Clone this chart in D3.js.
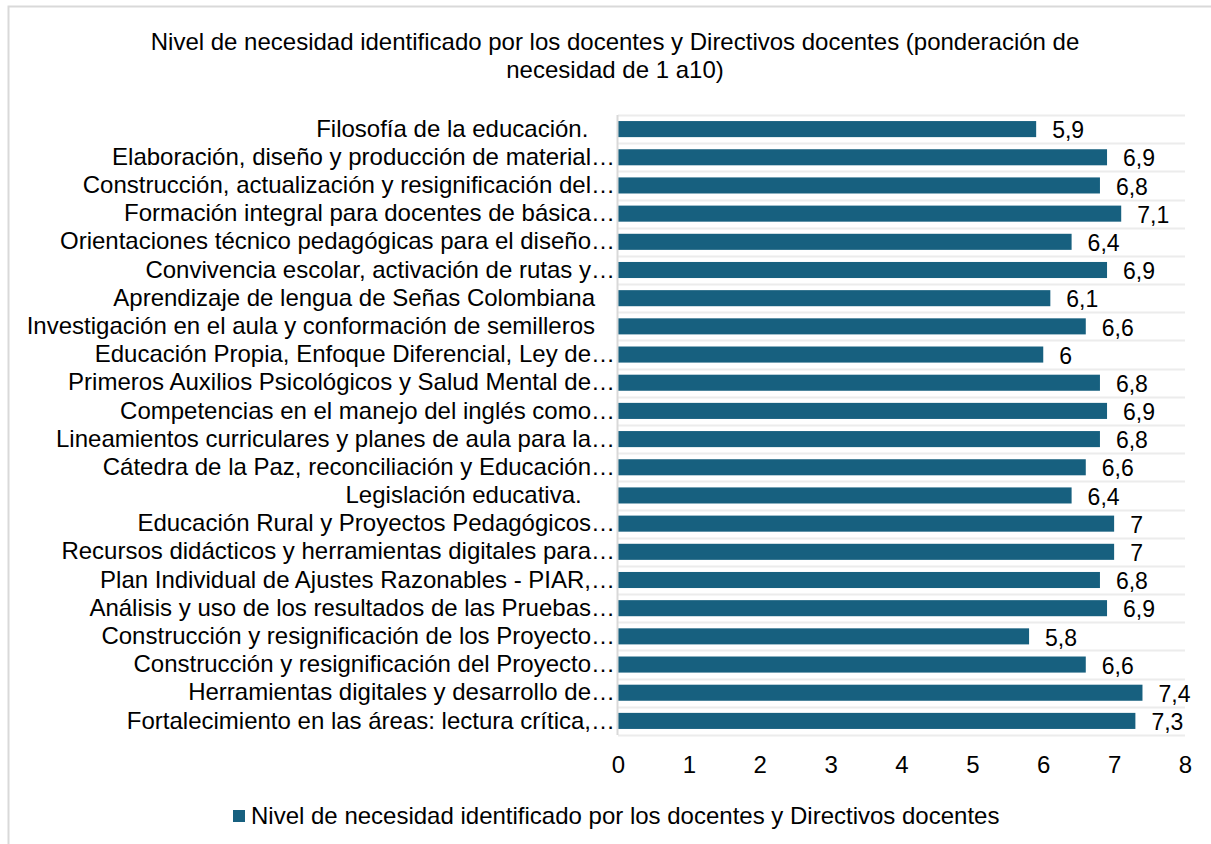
<!DOCTYPE html>
<html>
<head>
<meta charset="utf-8">
<script src="https://cdn.jsdelivr.net/npm/d3@7"></script>
<style>
    body { margin: 0; background: #fff; font-family: "Liberation Sans", Arial, sans-serif; }
    #chart-area { width: 1211px; height: 844px; }
    .cat-label { white-space: pre; }
</style>
</head>
<body>
<div id="chart-area"></div>
<script>
// categories (top to bottom)
const categories = [
    "Filosofía de la educación.    ",
    "Elaboración, diseño y producción de material…",
    "Construcción, actualización y resignificación del…",
    "Formación integral para docentes de básica…",
    "Orientaciones técnico pedagógicas para el diseño…",
    "Convivencia escolar, activación de rutas y…",
    "Aprendizaje de lengua de Señas Colombiana   ",
    "Investigación en el aula y conformación de semilleros   ",
    "Educación Propia, Enfoque Diferencial, Ley de…",
    "Primeros Auxilios Psicológicos y Salud Mental de…",
    "Competencias en el manejo del inglés como…",
    "Lineamientos curriculares y planes de aula para la…",
    "Cátedra de la Paz, reconciliación y Educación…",
    "Legislación educativa.     ",
    "Educación Rural y Proyectos Pedagógicos…",
    "Recursos didácticos y herramientas digitales para…",
    "Plan Individual de Ajustes Razonables - PIAR,…",
    "Análisis y uso de los resultados de las Pruebas…",
    "Construcción y resignificación de los Proyecto…",
    "Construcción y resignificación del Proyecto…",
    "Herramientas digitales y desarrollo de…",
    "Fortalecimiento en las áreas: lectura crítica,…"
];
const values = [5.9, 6.9, 6.8, 7.1, 6.4, 6.9, 6.1, 6.6, 6, 6.8, 6.9, 6.8, 6.6, 6.4, 7, 7, 6.8, 6.9, 5.8, 6.6, 7.4, 7.3];
const xTicks = [0, 1, 2, 3, 4, 5, 6, 7, 8];
const titleLines = [
    "Nivel de necesidad identificado por los docentes y Directivos docentes (ponderación de",
    "necesidad de 1 a10)"
];
const seriesName = "Nivel de necesidad identificado por los docentes y Directivos docentes";

const data = categories.map((c, i) => ({ category: c, value: values[i] }));

const fontSize = 24;

const svg = d3.select("#chart-area")
    .append("svg")
    .attr("width", 1211)
    .attr("height", 844);

// chart border
svg.append("rect")
    .attr("x", 8.5)
    .attr("y", 6.5)
    .attr("width", 1220)
    .attr("height", 860)
    .attr("fill", "#fff")
    .attr("stroke", "#d9d9d9")
    .attr("stroke-width", 2);

svg.append("text")
    .attr("text-anchor", "middle")
    .attr("font-size", fontSize)
    .attr("fill", "#000")
    .selectAll("tspan")
    .data(titleLines)
    .enter()
    .append("tspan")
    .attr("x", 615)
    .attr("y", (d, i) => 50 + i * 28)
    .text(d => d);

const margin = { top: 115, left: 618, width: 567, height: 620 };

const g = svg.append("g")
    .attr("transform", `translate(${margin.left}, ${margin.top})`);

const xScale = d3.scaleLinear()
    .domain([0, 8])
    .range([0, margin.width]);

const yScale = d3.scaleBand()
    .domain(categories)
    .range([0, margin.height])
    .paddingInner(0.43)
    .paddingOuter(0.215);

const step = yScale.step();

// horizontal grid lines at category boundaries
g.selectAll(".grid")
    .data(d3.range(categories.length + 1))
    .enter()
    .append("line")
    .attr("class", "grid")
    .attr("x1", 0)
    .attr("x2", margin.width)
    .attr("y1", d => Math.round(d * step) + 0.5)
    .attr("y2", d => Math.round(d * step) + 0.5)
    .attr("stroke", "#ececec")
    .attr("stroke-width", 2);

g.selectAll(".bar")
    .data(data)
    .enter()
    .append("rect")
    .attr("class", "bar")
    .attr("x", 0)
    .attr("y", d => yScale(d.category))
    .attr("width", d => xScale(d.value))
    .attr("height", yScale.bandwidth())
    .attr("fill", "#17607f");

// vertical axis line
g.append("line")
    .attr("x1", -0.5)
    .attr("x2", -0.5)
    .attr("y1", 0)
    .attr("y2", margin.height)
    .attr("stroke", "#d9d9d9")
    .attr("stroke-width", 2);

g.selectAll(".cat-label")
    .data(data)
    .enter()
    .append("text")
    .attr("class", "cat-label")
    .attr("x", -3)
    .attr("y", d => yScale(d.category) + yScale.bandwidth() / 2)
    .attr("dy", "0.32em")
    .attr("text-anchor", "end")
    .attr("font-size", fontSize)
    .attr("fill", "#000")
    .text(d => d.category);

const fmt = d => String(d).replace(".", ",");

g.selectAll(".val-label")
    .data(data)
    .enter()
    .append("text")
    .attr("class", "val-label")
    .attr("x", d => xScale(d.value) + 16)
    .attr("y", d => yScale(d.category) + yScale.bandwidth() / 2)
    .attr("dy", "0.4em")
    .attr("font-size", 23)
    .attr("fill", "#000")
    .text(d => fmt(d.value));

const xAxis = d3.axisBottom(xScale)
    .tickValues(xTicks)
    .tickSize(0)
    .tickPadding(0)
    .tickFormat(d => d);

const xAxisGroup = g.append("g")
    .attr("class", "x-axis")
    .attr("transform", `translate(0, ${margin.height})`)
    .call(xAxis);

xAxisGroup.select(".domain").remove();
xAxisGroup.selectAll("text")
    .attr("y", 38)
    .attr("dy", 0)
    .attr("font-size", fontSize)
    .attr("font-family", "Liberation Sans, Arial, sans-serif")
    .attr("fill", "#000");

// legend
const legend = svg.append("g")
    .attr("transform", "translate(233, 810)");

legend.append("rect")
    .attr("width", 12)
    .attr("height", 12)
    .attr("fill", "#17607f");

legend.append("text")
    .attr("x", 18)
    .attr("y", 14)
    .attr("font-size", fontSize)
    .attr("fill", "#000")
    .text(seriesName);
</script>
</body>
</html>
